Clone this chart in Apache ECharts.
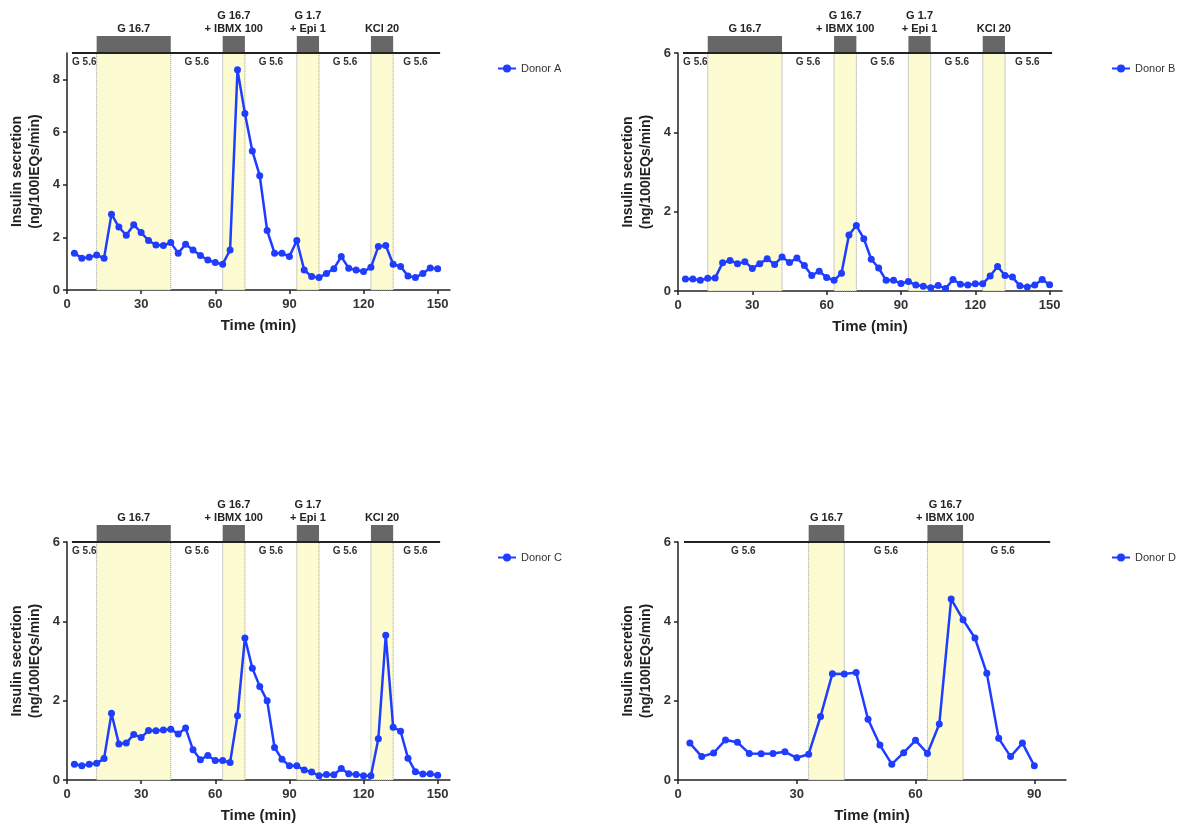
<!DOCTYPE html>
<html>
<head>
<meta charset="utf-8">
<script src="https://cdn.jsdelivr.net/npm/echarts@6/dist/echarts.min.js"></script>
<style>
    html, body { margin: 0; padding: 0; background: #fff; }
    #chart { width: 1191px; height: 826px; }
</style>
</head>
<body>
<div id="chart"></div>
<script>
// sampling times (min)
var times150 = [3, 6, 9, 12, 15, 18, 21, 24, 27, 30, 33, 36, 39, 42, 45, 48, 51, 54, 57, 60,
    63, 66, 69, 72, 75, 78, 81, 84, 87, 90, 93, 96, 99, 102, 105, 108, 111, 114, 117, 120,
    123, 126, 129, 132, 135, 138, 141, 144, 147, 150];
var times90 = [3, 6, 9, 12, 15, 18, 21, 24, 27, 30, 33, 36, 39, 42, 45, 48, 51, 54, 57, 60,
    63, 66, 69, 72, 75, 78, 81, 84, 87, 90];

// insulin secretion (ng/100IEQs/min)
var donorA = [1.40, 1.21, 1.24, 1.33, 1.21, 2.88, 2.39, 2.08, 2.48, 2.18, 1.88, 1.71, 1.69, 1.80, 1.40, 1.74, 1.52, 1.31, 1.14, 1.04,
    0.98, 1.52, 8.36, 6.70, 5.28, 4.34, 2.26, 1.40, 1.40, 1.27, 1.88, 0.76, 0.51, 0.47, 0.63, 0.81, 1.27, 0.83, 0.76, 0.70,
    0.86, 1.65, 1.69, 0.98, 0.89, 0.53, 0.47, 0.63, 0.84, 0.81];
var donorB = [0.30, 0.30, 0.27, 0.32, 0.33, 0.71, 0.77, 0.69, 0.74, 0.57, 0.69, 0.81, 0.67, 0.86, 0.72, 0.83, 0.64, 0.39, 0.50, 0.34,
    0.27, 0.45, 1.41, 1.65, 1.32, 0.80, 0.58, 0.27, 0.27, 0.19, 0.24, 0.15, 0.12, 0.08, 0.14, 0.06, 0.29, 0.17, 0.15, 0.18,
    0.18, 0.38, 0.62, 0.39, 0.35, 0.13, 0.10, 0.15, 0.29, 0.16];
var donorC = [0.40, 0.36, 0.40, 0.42, 0.54, 1.68, 0.91, 0.93, 1.15, 1.07, 1.25, 1.24, 1.26, 1.28, 1.16, 1.31, 0.76, 0.51, 0.62, 0.49,
    0.49, 0.44, 1.62, 3.58, 2.82, 2.36, 2.00, 0.82, 0.52, 0.36, 0.36, 0.25, 0.20, 0.11, 0.14, 0.13, 0.29, 0.16, 0.14, 0.11,
    0.11, 1.04, 3.65, 1.33, 1.23, 0.55, 0.21, 0.15, 0.16, 0.12];
var donorD = [0.93, 0.59, 0.68, 1.01, 0.95, 0.67, 0.66, 0.67, 0.71, 0.56, 0.65, 1.60, 2.68, 2.67, 2.71, 1.53, 0.88, 0.40, 0.69, 1.00,
    0.67, 1.41, 4.56, 4.04, 3.58, 2.69, 1.05, 0.59, 0.93, 0.36];

// perifusion protocol
var stimWindows150 = [[12, 42], [63, 72], [93, 102], [123, 132]];
var stimLabels150 = ['G 16.7', 'G 16.7\n+ IBMX 100', 'G 1.7\n+ Epi 1', 'KCl 20'];
var basalWindows150 = [[2, 12], [42, 63], [72, 93], [102, 123], [132, 150]];
var stimWindows90 = [[33, 42], [63, 72]];
var stimLabels90 = ['G 16.7', 'G 16.7\n+ IBMX 100'];
var basalWindows90 = [[0, 33], [42, 63], [72, 92]];
var basalLabel = 'G 5.6';

var xTicks150 = [0, 30, 60, 90, 120, 150];
var xTicks90 = [0, 30, 60, 90];
var yTicksA = [0, 2, 4, 6, 8];
var yTicks6 = [0, 2, 4, 6];

var FONT = '"Liberation Sans", Arial, sans-serif';
var BLUE = '#1f3dff';

var panels = [
    {name: 'Donor A', times: times150, values: donorA, left: 67, top: 53, width: 383, height: 237, xMax: 155, yMax: 9,
        xTicks: xTicks150, yTicks: yTicksA, stim: stimWindows150, stimLabels: stimLabels150, basal: basalWindows150, lineEnd: [2, 151],
        legend: {left: 492, top: 58}},
    {name: 'Donor B', times: times150, values: donorB, left: 678, top: 53, width: 384, height: 238, xMax: 155, yMax: 6,
        xTicks: xTicks150, yTicks: yTicks6, stim: stimWindows150, stimLabels: stimLabels150, basal: basalWindows150, lineEnd: [2, 151],
        legend: {left: 1106, top: 58}},
    {name: 'Donor C', times: times150, values: donorC, left: 67, top: 542, width: 383, height: 238, xMax: 155, yMax: 6,
        xTicks: xTicks150, yTicks: yTicks6, stim: stimWindows150, stimLabels: stimLabels150, basal: basalWindows150, lineEnd: [2, 151],
        legend: {left: 492, top: 547}},
    {name: 'Donor D', times: times90, values: donorD, left: 678, top: 542, width: 388, height: 238, xMax: 98, yMax: 6,
        xTicks: xTicks90, yTicks: yTicks6, stim: stimWindows90, stimLabels: stimLabels90, basal: basalWindows90, lineEnd: [1.5, 94],
        legend: {left: 1106, top: 547}}
];

var grid = [], xAxis = [], yAxis = [], series = [], legend = [];

panels.forEach(function (p, i) {
    var main = i * 2;
    var head = i * 2 + 1;
    grid.push({left: p.left, top: p.top, width: p.width, height: p.height});
    grid.push({left: p.left, top: p.top - 17, width: p.width, height: 17});

    xAxis.push({
        type: 'value', gridIndex: main, min: 0, max: p.xMax,
        name: 'Time (min)', nameLocation: 'middle', nameGap: 28,
        nameTextStyle: {fontFamily: FONT, fontWeight: 'bold', fontSize: 15, color: '#222'},
        axisLine: {lineStyle: {color: '#222', width: 1.5}},
        axisTick: {show: true, length: 4, customValues: p.xTicks, lineStyle: {color: '#222', width: 1.5}},
        axisLabel: {customValues: p.xTicks, margin: 8, fontFamily: FONT, fontWeight: 'bold', fontSize: 13, color: '#333'},
        splitLine: {show: false}
    });
    xAxis.push({type: 'value', gridIndex: head, min: 0, max: p.xMax, show: false});

    yAxis.push({
        type: 'value', gridIndex: main, min: 0, max: p.yMax,
        name: 'Insulin secretion\n(ng/100IEQs/min)', nameLocation: 'middle', nameGap: 23, nameRotate: 90,
        nameTextStyle: {fontFamily: FONT, fontWeight: 'bold', fontSize: 14, color: '#222', lineHeight: 18},
        axisLine: {show: true, lineStyle: {color: '#222', width: 1.5}},
        axisTick: {show: true, length: 4, customValues: p.yTicks, lineStyle: {color: '#222', width: 1.5}},
        axisLabel: {customValues: p.yTicks, margin: 7, fontFamily: FONT, fontWeight: 'bold', fontSize: 13, color: '#333'},
        splitLine: {show: false}
    });
    yAxis.push({type: 'value', gridIndex: head, min: 0, max: 1, show: false});

    // the line + yellow stimulation bands
    series.push({
        name: p.name,
        type: 'line',
        xAxisIndex: main,
        yAxisIndex: main,
        data: p.times.map(function (t, k) { return [t, p.values[k]]; }),
        symbol: 'circle',
        symbolSize: 7,
        lineStyle: {color: BLUE, width: 2.5},
        itemStyle: {color: BLUE},
        z: 5,
        markArea: {
            silent: true,
            itemStyle: {color: '#fdfbd2', borderColor: '#999', borderWidth: 1, borderType: 'dotted'},
            data: p.stim.map(function (w) { return [{xAxis: w[0]}, {xAxis: w[1]}]; })
        }
    });

    // grey protocol bars with their labels
    var stimLabels = p.stimLabels;
    series.push({
        type: 'custom',
        xAxisIndex: head,
        yAxisIndex: head,
        silent: true,
        data: p.stim,
        renderItem: function (params, api) {
            var a = api.coord([api.value(0), 1]);
            var b = api.coord([api.value(1), 0]);
            return {
                type: 'group',
                children: [
                    {type: 'rect', shape: {x: a[0], y: a[1], width: b[0] - a[0], height: b[1] - a[1]},
                        style: {fill: '#676767'}},
                    {type: 'text', x: (a[0] + b[0]) / 2, y: a[1] - 1,
                        style: {text: stimLabels[params.dataIndex], align: 'center', verticalAlign: 'bottom',
                            font: 'bold 11px ' + FONT, fill: '#222', lineHeight: 13}}
                ]
            };
        }
    });

    // basal labels under the protocol line
    series.push({
        type: 'custom',
        xAxisIndex: head,
        yAxisIndex: head,
        silent: true,
        z: 6,
        data: p.basal,
        renderItem: function (params, api) {
            var a = api.coord([(api.value(0) + api.value(1)) / 2, 0]);
            return {
                type: 'text', x: a[0], y: a[1] + 4,
                style: {text: basalLabel, align: 'center', verticalAlign: 'top',
                    font: 'bold 10px ' + FONT, fill: '#333'}
            };
        },
        markLine: {
            silent: true,
            symbol: ['none', 'none'],
            label: {show: false},
            lineStyle: {color: '#222', width: 2, type: 'solid'},
            data: [[{coord: [p.lineEnd[0], 0]}, {coord: [p.lineEnd[1], 0]}]]
        }
    });

    legend.push({
        data: [p.name],
        left: p.legend.left,
        top: p.legend.top,
        itemWidth: 18,
        itemHeight: 10,
        itemGap: 4,
        textStyle: {fontFamily: FONT, fontSize: 11, color: '#333'}
    });
});

var myChart = echarts.init(document.getElementById('chart'), null, {renderer: 'canvas'});
myChart.setOption({
    animation: false,
    backgroundColor: '#fff',
    grid: grid,
    xAxis: xAxis,
    yAxis: yAxis,
    legend: legend,
    series: series
});
</script>
</body>
</html>
